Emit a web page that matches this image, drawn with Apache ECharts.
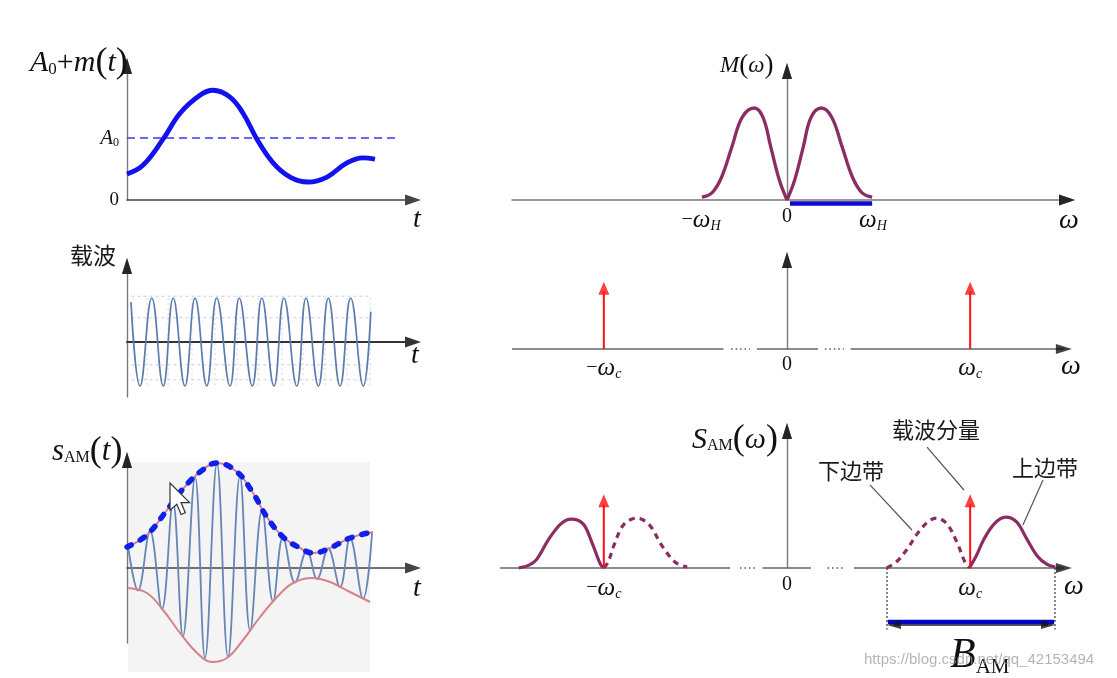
<!DOCTYPE html>
<html><head><meta charset="utf-8">
<script src="https://cdn.jsdelivr.net/npm/echarts@6/dist/echarts.min.js"></script>
<style>html,body{margin:0;padding:0;background:#fff}#c{width:1117px;height:678px}</style>
</head><body><div id="c"></div>
<script>
// ================= DATA =================
// Panel 1: A0 + m(t)  (t in carrier periods, value in units of A0)
const msgT = [0, 0.72, 1.63, 2.40, 3.30, 3.89, 4.66, 5.25, 5.88, 6.61, 7.38, 8.19, 9.05, 9.95, 10.68, 11.22];
const msgV = [0.42, 0.56, 0.98, 1.40, 1.69, 1.77, 1.66, 1.40, 0.98, 0.60, 0.37, 0.29, 0.37, 0.60, 0.68, 0.66];
const a0Level = 1;
const a0Span = [0, 12.35];
const p1YTicks = [0, 1];
const p1YLabels = ['0', 'A_0'];

// Panel 2: carrier (extrema)
const carrierT = [0.18, 0.59, 1.12, 1.64, 2.09, 2.62, 3.08, 3.61, 4.06, 4.66, 5.08, 5.67, 6.10, 6.65, 7.10, 7.68, 8.10, 8.66, 9.11, 9.64, 10.12, 10.69, 11.03];
const carrierV = [0.91, -1, 1, -1, 1, -1, 1, -1, 1, -1, 1, -1, 1, -1, 1, -1, 1, -1, 1, -1, 1, -1, 0.69];
const carrierGridY = [1.04, 0.55, -0.52, -0.86];
const carrierGridT = [0.90, 1.86, 2.94, 3.98, 4.98, 5.93, 7.01, 7.96, 8.96, 9.95, 11.0];
const carrierGridSpanT = [0.2, 11.0];
const carrierGridSpanY = [-0.98, 1.05];

// Panel 3: s_AM(t)
const envUpT = [0, 0.90, 1.81, 2.49, 3.30, 4.07, 4.98, 5.70, 6.33, 7.06, 7.83, 8.42, 9.19, 10.09, 11.13];
const envUpV = [0.42, 0.66, 1.16, 1.56, 1.92, 2.10, 1.92, 1.50, 1.02, 0.62, 0.40, 0.30, 0.40, 0.60, 0.72];
const envLoT = [0.05, 0.90, 1.63, 2.40, 3.17, 3.85, 4.52, 5.25, 6.02, 6.79, 7.51, 8.37, 9.19, 10.09, 11.0];
const envLoV = [-0.40, -0.50, -0.84, -1.30, -1.70, -1.88, -1.80, -1.44, -0.98, -0.58, -0.30, -0.20, -0.28, -0.48, -0.68];
const amT = [0.05, 0.50, 1.04, 1.58, 2.08, 2.53, 3.08, 3.53, 4.07, 4.57, 5.11, 5.57, 6.11, 6.61, 7.06, 7.60, 8.14, 8.60, 9.10, 9.64, 10.09, 10.68, 11.09];
const amV = [0.43, -0.45, 0.74, -0.82, 1.32, -1.37, 1.82, -1.80, 2.10, -1.78, 1.84, -1.25, 1.15, -0.67, 0.62, -0.29, 0.35, -0.22, 0.39, -0.38, 0.60, -0.61, 0.72];
const amBgT = [0.05, 11.0];
const amBgV = [2.12, 2.12];
const amBgBase = -2.08;

// Panel 4: M(omega)  (omega in units of omega_H)
const mLeftW = [-0.99, -0.87, -0.76, -0.64, -0.52, -0.38, -0.28, -0.19, -0.09, 0];
const mLeftV = [0.03, 0.08, 0.25, 0.58, 0.90, 1.0, 0.90, 0.58, 0.22, 0];
const mRightW = [0, 0.09, 0.19, 0.28, 0.40, 0.52, 0.64, 0.76, 0.87, 0.99];
const mRightV = [0, 0.22, 0.58, 0.90, 1.0, 0.90, 0.58, 0.25, 0.08, 0.03];
const mBandW = [0.035, 0.99];
const mBandV = -0.038;
const p4Ticks = [-1, 0, 1];
const p4Labels = ['−ω_H', '0', 'ω_H'];

// Panel 5: carrier spectrum
const wc = 2.13;
const p5Impulse = 0.87;
const p5ImpulseHead = 0.92;
const p5AxisSolid = [[-3.198, -0.74], [-0.35, 0.36], [0.74, 3.22]];
const p5AxisDots = [[-0.65, -0.43], [0.44, 0.66]];
const p5Ticks = [-2.13, 0, 2.13];
const p5Labels = ['−ω_c', '0', 'ω_c'];

// Panel 6: S_AM(omega)
const p6Impulse = 0.66;
const p6ImpulseHead = 0.70;
const p6AxisSolid = [[-3.337, -0.663], [-0.285, 0.279], [0.779, 3.22]];
const p6AxisDots = [[-0.547, -0.36], [0.472, 0.663]];
const usbRightW = [2.12, 2.20, 2.29, 2.41, 2.54, 2.67, 2.79, 2.91, 3.02, 3.12];
const usbRightV = [0, 0.125, 0.30, 0.46, 0.53, 0.48, 0.30, 0.125, 0.04, 0.01];
const lsbRightW = [1.16, 1.28, 1.40, 1.53, 1.65, 1.74, 1.86, 1.98, 2.07, 2.12];
const lsbRightV = [0.0, 0.07, 0.20, 0.375, 0.49, 0.52, 0.46, 0.26, 0.06, 0];
const usbLeftW = [-3.12, -3.0, -2.91, -2.77, -2.63, -2.51, -2.37, -2.27, -2.17, -2.13];
const usbLeftV = [0, 0.03, 0.09, 0.30, 0.46, 0.51, 0.46, 0.27, 0.04, 0];
const lsbLeftW = [-2.13, -2.08, -2.01, -1.90, -1.75, -1.60, -1.46, -1.30, -1.16];
const lsbLeftV = [0, 0.06, 0.24, 0.45, 0.52, 0.45, 0.24, 0.06, 0.01];
const bamW = [1.163, 3.116];
const bamHeadW = [1.244, 3.035];
const bamBarV = -0.5625;
const bamLineV = -0.594;
const bamGuideV = -0.64;
const leaderCarrier = [[1.628, 1.26], [2.058, 0.8125]];
const leaderLsb = [[0.965, 0.865], [1.453, 0.396]];
const leaderUsb = [[2.977, 0.917], [2.744, 0.448]];
const p6Ticks = [-2.13, 0, 2.13];
const p6Labels = ['−ω_c', '0', 'ω_c'];

// axis ranges (x: min,max ; y: min,max) per panel
const xRanges = [[0, 12.94], [0, 12.94], [0, 12.94], [-3.198, 3.256], [-3.198, 3.256], [-3.337, 3.256]];
const yRanges = [[0, 2.161], [-1.25, 1.727], [-1.5, 2.16], [0, 1.402], [0, 1.349], [0, 1.427]];

// ================= CHART =================
const SERIF = 'Liberation Serif, Times New Roman, serif';
const CJK = 'Noto Sans CJK SC, sans-serif';
const pairs = (xs, ys) => xs.map((x, i) => [x, ys[i]]);

function richMath(s) {
  let main = s, sub = '';
  const k = s.indexOf('_');
  if (k >= 0) { main = s.slice(0, k); sub = s.slice(k + 1); }
  let out = '';
  for (const ch of main) out += /[A-Za-zω]/.test(ch) ? '{i|' + ch + '}' : '{n|' + ch + '}';
  if (sub) out += /[A-Za-z]/.test(sub) ? '{si|' + sub + '}' : '{s|' + sub + '}';
  return out;
}
function tickFormatter(vals, labels) {
  return v => { const k = vals.findIndex(x => Math.abs(x - v) < 1e-6); return k >= 0 ? richMath(labels[k]) : ''; };
}
const tickRich = {
  i: { fontFamily: SERIF, fontStyle: 'italic', fontSize: 25, color: '#111' },
  n: { fontFamily: SERIF, fontSize: 20, color: '#111' },
  s: { fontFamily: SERIF, fontSize: 14, color: '#111', padding: [12, 0, 0, 0] },
  si: { fontFamily: SERIF, fontStyle: 'italic', fontSize: 14, color: '#111', padding: [12, 0, 0, 0] }
};
const p1Rich = {
  i: { fontFamily: SERIF, fontStyle: 'italic', fontSize: 21, color: '#111' },
  n: { fontFamily: SERIF, fontSize: 19, color: '#111' },
  s: { fontFamily: SERIF, fontSize: 12, color: '#111', padding: [9, 0, 0, 0] }
};

const AX = '#555';
function xAx(gi, opts) {
  opts = opts || {};
  return {
    type: 'value', gridIndex: gi, min: xRanges[gi][0], max: xRanges[gi][1],
    axisLine: { show: opts.line !== false, onZero: true, symbol: ['none', 'triangle'], symbolSize: [11, 16],
      lineStyle: { color: opts.color || AX, width: opts.width || 1.5 } },
    axisTick: { show: false }, splitLine: { show: false },
    axisLabel: opts.label ? Object.assign({ show: true, margin: 7, rich: tickRich }, opts.label) : { show: false }
  };
}
function yAx(gi, opts) {
  opts = opts || {};
  return {
    type: 'value', gridIndex: gi, min: yRanges[gi][0], max: yRanges[gi][1],
    axisLine: { show: true, onZero: true, symbol: ['none', 'triangle'], symbolSize: [10, 16],
      lineStyle: { color: opts.color || '#7a7a7a', width: 1.4 } },
    axisTick: { show: false }, splitLine: { show: false },
    axisLabel: opts.label ? Object.assign({ show: true }, opts.label) : { show: false }
  };
}

const series = [];
function line(gi, data, style, extra) {
  series.push(Object.assign({ type: 'line', xAxisIndex: gi, yAxisIndex: gi, data, symbol: 'none',
    clip: false, silent: true, animation: false, lineStyle: style, z: 2 }, extra || {}));
}
function head(gi, pt, size, rot, color, z) {
  series.push({ type: 'scatter', xAxisIndex: gi, yAxisIndex: gi, data: [pt], symbol: 'triangle',
    symbolSize: size, symbolRotate: rot, itemStyle: { color }, clip: false, silent: true, z: z || 6 });
}
const MAROON = '#8b2d63';
const RED = '#ff1010';

// black arrow heads on the y axes (tip of each vertical axis)
for (let gi = 0; gi < 6; gi++) {
  const xAt = gi < 3 ? xRanges[gi][0] : 0;
  head(gi, [xAt, yRanges[gi][1]], [10, 16], 0, '#111', 8);
}
head(3, [xRanges[3][1], 0], [11, 16], -90, '#111', 8);

// panel 1
line(0, [[a0Span[0], a0Level], [a0Span[1], a0Level]], { color: '#3838ff', width: 1.5, type: [8, 5] });
line(0, pairs(msgT, msgV), { color: '#1212ee', width: 4.8 }, { smooth: 0.4, z: 3 });

// panel 2
carrierGridY.forEach(y => line(1, [[carrierGridSpanT[0], y], [carrierGridSpanT[1], y]], { color: '#c9cdd6', width: 1, type: [3, 3] }, { z: 1 }));
carrierGridT.forEach(t => line(1, [[t, carrierGridSpanY[0]], [t, carrierGridSpanY[1]]], { color: '#d3d6de', width: 1, type: [2, 3] }, { z: 1 }));
line(1, pairs(carrierT, carrierV), { color: '#5a7caf', width: 1.7 }, { smooth: 0.45, z: 3 });

// panel 3
line(2, pairs(amBgT, amBgV), { width: 0, opacity: 0 }, { areaStyle: { color: '#f4f4f4', origin: amBgBase, opacity: 1 }, z: 0 });
line(2, pairs(amT, amV), { color: '#6586b6', width: 1.8 }, { smooth: 0.4, z: 3 });
line(2, pairs(envLoT, envLoV), { color: '#d7808b', width: 2 }, { smooth: 0.4, z: 4 });
line(2, pairs(envUpT, envUpV), { color: '#d7808b', width: 2 }, { smooth: 0.4, z: 4 });
line(2, pairs(envUpT, envUpV), { color: '#1020ea', width: 5.5, type: [5, 10], cap: 'round' }, { smooth: 0.4, z: 5 });

// panel 4
line(3, pairs(mLeftW, mLeftV), { color: MAROON, width: 3.3 }, { smooth: 0.4, z: 3 });
line(3, pairs(mRightW, mRightV), { color: MAROON, width: 3.3 }, { smooth: 0.4, z: 3 });
line(3, [[mBandW[0], mBandV], [mBandW[1], mBandV]], { color: '#0a0ad0', width: 4.5 }, { z: 4 });

// panel 5
p5AxisSolid.forEach(seg => line(4, [[seg[0], 0], [seg[1], 0]], { color: '#666', width: 1.6 }));
p5AxisDots.forEach(seg => line(4, [[seg[0], 0], [seg[1], 0]], { color: '#555', width: 1.6, type: [1.5, 3] }));
head(4, [p5AxisSolid[2][1], 0], [10, 16], -90, '#111');
[-wc, wc].forEach(w => { line(4, [[w, 0], [w, p5Impulse]], { color: RED, width: 2 }, { z: 4 }); head(4, [w, p5ImpulseHead], [11, 13], 0, RED); });

// panel 6
p6AxisSolid.forEach(seg => line(5, [[seg[0], 0], [seg[1], 0]], { color: '#666', width: 1.6 }));
p6AxisDots.forEach(seg => line(5, [[seg[0], 0], [seg[1], 0]], { color: '#555', width: 1.6, type: [1.5, 3] }));
head(5, [p6AxisSolid[2][1], 0], [10, 16], -90, '#111');
line(5, pairs(usbLeftW, usbLeftV), { color: MAROON, width: 3.2 }, { smooth: 0.35, z: 3 });
line(5, pairs(lsbLeftW, lsbLeftV), { color: MAROON, width: 3.2, type: [6, 5] }, { smooth: 0.35, z: 3 });
line(5, pairs(lsbRightW, lsbRightV), { color: MAROON, width: 3.2, type: [6, 5] }, { smooth: 0.35, z: 3 });
line(5, pairs(usbRightW, usbRightV), { color: MAROON, width: 3.2 }, { smooth: 0.35, z: 3 });
[-wc, wc].forEach(w => { line(5, [[w, 0], [w, p6Impulse]], { color: RED, width: 2 }, { z: 4 }); head(5, [w, p6ImpulseHead], [11, 13], 0, RED); });
bamW.forEach(w => line(5, [[w, 0], [w, bamGuideV]], { color: '#333', width: 1.2, type: [2, 2] }));
line(5, [[bamHeadW[0], bamLineV], [bamHeadW[1], bamLineV]], { color: '#222', width: 1.5 });
head(5, [bamHeadW[0], bamLineV], [8, 14], 90, '#111');
head(5, [bamHeadW[1], bamLineV], [8, 14], -90, '#111');
line(5, [[bamW[0] + 0.01, bamBarV], [bamW[1] - 0.01, bamBarV]], { color: '#0505c8', width: 4.5 }, { z: 5 });
[leaderCarrier, leaderLsb, leaderUsb].forEach(l => line(5, l, { color: '#555', width: 1.2 }));

function txt(x, y, text, rich, align) {
  return { type: 'text', x, y, z: 10, silent: true,
    style: { text, rich, align: align || 'left', verticalAlign: 'middle', textAlign: align || 'left', textVerticalAlign: 'middle' } };
}
const fI = (sz, ex) => Object.assign({ fontFamily: SERIF, fontStyle: 'italic', fontSize: sz, fill: '#111', color: '#111' }, ex || {});
const fN = (sz, ex) => Object.assign({ fontFamily: SERIF, fontSize: sz, fill: '#111', color: '#111' }, ex || {});
const fC = (sz) => ({ fontFamily: CJK, fontSize: sz, fill: '#1a1a1a', color: '#1a1a1a' });

const graphic = [
  txt(30, 63, '{i|A}{s|0}{n|+}{i|m}{p|(}{i|t}{p|)}', { i: fI(30), s: fN(17, { padding: [14, 0, 0, 0] }), n: fN(30), p: fN(36) }),
  txt(417, 220, '{i|t}', { i: fI(28) }, 'center'),
  txt(415, 356, '{i|t}', { i: fI(28) }, 'center'),
  txt(417, 589, '{i|t}', { i: fI(28) }, 'center'),
  txt(93, 255, '{c|载波}', { c: fC(23) }, 'center'),
  txt(52, 452, '{i|s}{s|AM}{p|(}{i|t}{p|)}', { i: fI(31), s: fN(16, { padding: [12, 0, 0, 0] }), p: fN(36) }),
  txt(720, 66, '{i|M}{p|(}{i|ω}{p|)}', { i: fI(23), p: fN(27) }),
  txt(692, 440, '{i|S}{s|AM}{p|(}{i|ω}{p|)}', { i: fI(30), s: fN(16, { padding: [12, 0, 0, 0] }), p: fN(36) }),
  txt(1069, 221, '{i|ω}', { i: fI(28) }, 'center'),
  txt(1071, 367, '{i|ω}', { i: fI(28) }, 'center'),
  txt(1074, 587, '{i|ω}', { i: fI(28) }, 'center'),
  txt(936, 430, '{c|载波分量}', { c: fC(22) }, 'center'),
  txt(851, 471, '{c|下边带}', { c: fC(22) }, 'center'),
  txt(1045, 468, '{c|上边带}', { c: fC(22) }, 'center'),
  txt(950, 656, '{i|B}{s|AM}', { i: fI(42), s: fN(21, { padding: [22, 0, 0, 0] }) }),
  { type: 'text', x: 864, y: 660, z: 12, silent: true,
    style: { text: 'https://blog.csdn.net/qq_42153494', fontFamily: 'Liberation Sans, Arial, sans-serif', fontSize: 15,
      fill: 'rgba(150,150,150,0.7)', align: 'left', verticalAlign: 'middle', textAlign: 'left', textVerticalAlign: 'middle' } },
  { type: 'polygon', z: 20, silent: true,
    shape: { points: [[170, 483], [170, 510.2], [176.8, 504.25], [181.05, 514.45], [185.3, 512.75], [181.05, 502.55], [189.55, 502.55]] },
    style: { fill: '#ffffff', stroke: '#333', lineWidth: 1.2 } }
];

const option = {
  animation: false,
  backgroundColor: '#ffffff',
  grid: [
    { left: 127, top: 66, width: 286, height: 134 },
    { left: 127, top: 266, width: 286, height: 131 },
    { left: 127, top: 460, width: 286, height: 183 },
    { left: 512, top: 71, width: 555, height: 129 },
    { left: 512, top: 260, width: 555, height: 89 },
    { left: 500, top: 431, width: 567, height: 137 }
  ],
  xAxis: [
    xAx(0, { color: '#444' }),
    xAx(1, { color: '#333', width: 1.8 }),
    xAx(2, { color: '#444' }),
    xAx(3, { color: '#777', label: { customValues: p4Ticks, formatter: tickFormatter(p4Ticks, p4Labels), margin: 7 } }),
    xAx(4, { line: false, label: { customValues: p5Ticks, formatter: tickFormatter(p5Ticks, p5Labels), margin: 6 } }),
    xAx(5, { line: false, label: { customValues: p6Ticks, formatter: tickFormatter(p6Ticks, p6Labels), margin: 7 } })
  ],
  yAxis: [
    yAx(0, { label: { customValues: p1YTicks, margin: 8, rich: p1Rich, formatter: tickFormatter(p1YTicks, p1YLabels) } }),
    yAx(1), yAx(2), yAx(3), yAx(4), yAx(5)
  ],
  series,
  graphic
};
const chart = echarts.init(document.getElementById('c'), null, { renderer: 'canvas' });
chart.setOption(option);
</script>
</body></html>
